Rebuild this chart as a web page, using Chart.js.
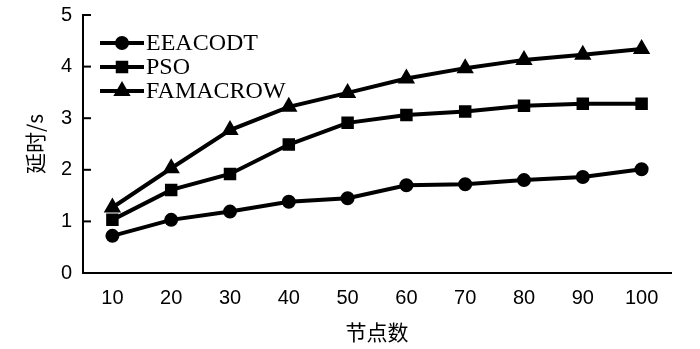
<!DOCTYPE html>
<html>
<head>
<meta charset="utf-8">
<script src="https://cdn.jsdelivr.net/npm/chart.js@4"></script>
<style>
  html, body { margin: 0; padding: 0; background: #fff; }
  #wrap { width: 700px; height: 349px; }
</style>
</head>
<body>
<div id="wrap"><canvas id="delay-chart" width="700" height="349"></canvas></div>
<script>
const nodeCounts = ['10', '20', '30', '40', '50', '60', '70', '80', '90', '100'];
const eeacodt = [0.72, 1.03, 1.19, 1.38, 1.45, 1.70, 1.72, 1.80, 1.86, 2.01];
const pso = [1.03, 1.61, 1.92, 2.49, 2.91, 3.06, 3.13, 3.24, 3.28, 3.28];
const famacrow = [1.27, 2.03, 2.77, 3.22, 3.49, 3.77, 3.97, 4.13, 4.23, 4.34];
const yTicks = [0, 1, 2, 3, 4, 5];

// short inward ticks on the y axis + legend with line and marker
const extras = {
  id: 'extras',
  afterDraw(chart) {
    const ctx = chart.ctx;
    const y = chart.scales.y;
    const area = chart.chartArea;
    ctx.save();
    ctx.strokeStyle = '#000';
    ctx.lineWidth = 2;
    yTicks.forEach(v => {
      const py = y.getPixelForValue(v);
      ctx.beginPath();
      ctx.moveTo(area.left, py);
      ctx.lineTo(area.left + 8, py);
      ctx.stroke();
    });

    // legend
    ctx.font = '24px "Liberation Serif"';
    ctx.textBaseline = 'middle';
    chart.data.datasets.forEach((ds, i) => {
      const ly = area.top + 28 + i * 24;
      const lx = area.left + 17;
      ctx.lineWidth = 4;
      ctx.beginPath();
      ctx.moveTo(lx, ly);
      ctx.lineTo(lx + 44, ly);
      ctx.stroke();
      Chart.helpers.drawPoint(ctx, {
        pointStyle: ds.pointStyle,
        radius: ds.pointRadius,
        rotation: 0,
        borderWidth: 1
      }, lx + 22, ly);
      ctx.fillStyle = '#000';
      ctx.fill();
      ctx.fillText(ds.label, lx + 46, ly + 1);
    });
    ctx.restore();
  }
};

const common = {
  borderColor: '#000',
  backgroundColor: '#000',
  pointBackgroundColor: '#000',
  pointBorderColor: '#000',
  borderWidth: 4,
  tension: 0
};

new Chart(document.getElementById('delay-chart'), {
  type: 'line',
  data: {
    labels: nodeCounts,
    datasets: [
      Object.assign({ label: 'EEACODT', data: eeacodt, pointStyle: 'circle', pointRadius: 5 }, common),
      Object.assign({ label: 'PSO', data: pso, pointStyle: 'rect', pointRadius: 6 }, common),
      Object.assign({ label: 'FAMACROW', data: famacrow, pointStyle: 'triangle', pointRadius: 6 }, common)
    ]
  },
  options: {
    responsive: false,
    animation: false,
    devicePixelRatio: 1,
    layout: { padding: { top: 15, right: 29, left: 0, bottom: 0 } },
    plugins: { legend: { display: false }, tooltip: { enabled: false } },
    scales: {
      x: {
        offset: true,
        grid: { display: false, drawTicks: false },
        border: { color: '#000', width: 2 },
        ticks: { color: '#000', padding: 13, font: { family: 'Liberation Sans', size: 20 } },
        title: {
          display: true, text: '节点数', color: '#000', padding: { top: 0 },
          font: { family: 'Noto Sans CJK SC', size: 21 }
        },
        afterFit: s => { s.height = 76; s.paddingLeft = 0; s.paddingRight = 0; }
      },
      y: {
        min: 0, max: 5,
        afterBuildTicks: s => { s.ticks = yTicks.map(v => ({ value: v })); },
        grid: { display: false, drawTicks: false },
        border: { color: '#000', width: 2 },
        ticks: { color: '#000', padding: 11, font: { family: 'Liberation Sans', size: 20 } },
        title: {
          display: true, text: '延时/s', color: '#000', padding: { top: 22, bottom: 0 },
          font: { family: 'Noto Sans CJK SC', size: 21 }
        },
        afterFit: s => { s.width = 83; s.paddingTop = 0; s.paddingBottom = 0; }
      }
    }
  },
  plugins: [extras]
});
</script>
</body>
</html>
